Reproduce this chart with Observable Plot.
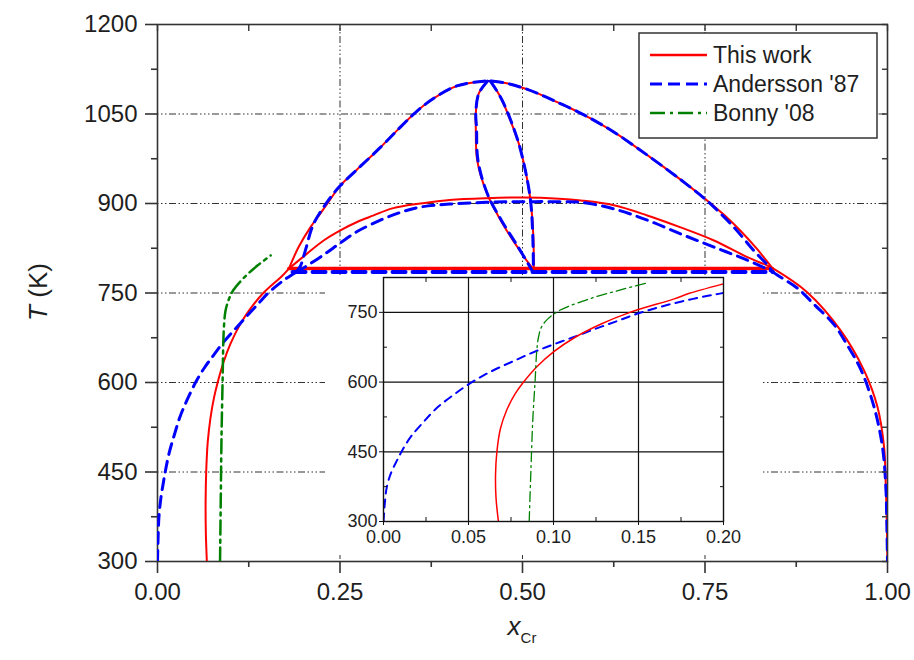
<!DOCTYPE html>
<html><head><meta charset="utf-8">
<script src="https://cdn.jsdelivr.net/npm/d3@7"></script>
<script src="https://cdn.jsdelivr.net/npm/@observablehq/plot@0.6"></script>
<style>
body{margin:0;background:#fff;}
#wrap{position:relative;width:914px;height:660px;font-family:"Liberation Sans",Arial,sans-serif;}
#wrap svg{display:block;}
#inset{position:absolute;left:325px;top:275px;}
</style></head><body><div id="wrap"><div id="inset"></div></div>
<script>
// ---- data: [x_Cr, T(K)] ----
const redLeftSolvus = [[0.0676,300],[0.0662,350],[0.0659,400],[0.0667,450],[0.0688,500],[0.0725,540],[0.0775,575],[0.0824,600],[0.0902,633],[0.1,665],[0.113,697],[0.128,725],[0.145,750],[0.171,779],[0.18,791]];
const redInnerDome = [[0.18,791],[0.2048,816],[0.2276,838],[0.2505,855],[0.2734,869],[0.2961,880],[0.319,891],[0.342,897],[0.36,900],[0.4,906],[0.45,909],[0.5,910],[0.55,908],[0.58,905],[0.6252,897],[0.671,880],[0.7166,860],[0.7623,838],[0.808,810],[0.8355,796],[0.842,792]];
const redOuterDome = [[0.18,791],[0.1933,827],[0.2094,860],[0.223,883],[0.2345,903],[0.2505,930],[0.2734,957],[0.3053,994],[0.3327,1028],[0.3556,1055],[0.378,1076],[0.41,1097],[0.447,1105],[0.46,1105],[0.48,1101],[0.5,1094],[0.52,1085],[0.54,1074],[0.56,1063],[0.58,1051],[0.6,1038],[0.625,1020],[0.671,981],[0.7166,940],[0.75,908],[0.776,881],[0.7989,854],[0.8218,823],[0.842,792]];
const redRightSolvus = [[0.842,792],[0.8903,751],[0.936,687],[0.968,620],[0.9863,559],[0.9953,492],[0.9977,425],[0.999,369],[1.0,300]];
const redLensLeft = [[0.452,1105],[0.44,1084],[0.436,1050],[0.436,1028],[0.438,972],[0.4516,916],[0.47,872],[0.493,827],[0.513,793],[0.515,791]];
const redLensRight = [[0.456,1105],[0.47,1078],[0.4835,1039],[0.495,1000],[0.504,955],[0.511,905],[0.5147,849],[0.5155,791]];
const redEutectoid = [[0.18,791],[0.842,791]];

const blueLeftSolvus = [[0,300],[0.0008,340],[0.002,375],[0.0045,405],[0.008,432],[0.011,453],[0.016,482],[0.023,512],[0.031,543],[0.041,572],[0.053,602],[0.065,626],[0.077,646],[0.088,664],[0.1,681],[0.112,697],[0.125,715],[0.138,732],[0.15,748],[0.163,762],[0.176,774],[0.19,785]];
const blueInnerDome = [[0.19,785],[0.2,792],[0.2276,814],[0.2505,834],[0.2734,853],[0.3053,872],[0.3327,885],[0.36,894],[0.4,899],[0.45,902],[0.5,903],[0.55,903],[0.58,902],[0.6252,891],[0.671,872],[0.7166,849],[0.7623,827],[0.808,805],[0.835,790],[0.843,785]];
const blueOuterDome = [[0.19,785],[0.1957,795],[0.2025,821],[0.2139,866],[0.2369,910],[0.2505,930],[0.2734,957],[0.3053,994],[0.3327,1028],[0.3556,1055],[0.378,1076],[0.41,1097],[0.447,1105],[0.46,1105],[0.48,1101],[0.5,1094],[0.52,1085],[0.54,1074],[0.56,1063],[0.58,1051],[0.6,1038],[0.625,1020],[0.671,981],[0.7166,940],[0.7486,909],[0.7623,894],[0.7897,860],[0.817,821],[0.8355,797],[0.843,785]];
const blueRightSolvus = [[0.843,785],[0.849,780],[0.8766,758],[0.8994,731],[0.9268,697],[0.9452,662],[0.9634,622],[0.9816,559],[0.9931,492],[0.9977,425],[0.999,369],[1.0,300]];
const blueLensLeft = [[0.452,1105],[0.44,1084],[0.436,1050],[0.437,1028],[0.439,972],[0.452,916],[0.471,872],[0.494,827],[0.512,790],[0.514,785]];
const blueLensRight = [[0.456,1105],[0.47,1078],[0.484,1039],[0.495,1000],[0.504,955],[0.511,905],[0.514,849],[0.515,785]];
const blueEutectoid = [[0.185,785],[0.843,785]];

const greenSolvus = [[0.0857,300],[0.0867,409],[0.0878,517],[0.0892,604],[0.0902,669],[0.0912,697],[0.093,719],[0.097,737],[0.104,755],[0.122,780],[0.139,798],[0.155,813]];

const majorT = [300,450,600,750,900,1050,1200];
const minorT = [375,525,675,825,975,1125];
const gridT = [450,600,750,900,1050];
const majorX = [0,0.25,0.5,0.75,1];
const minorX = [0.125,0.375,0.625,0.875];
const gridX = [0.25,0.5,0.75];
const insetMajorX = [0,0.05,0.1,0.15,0.2];
const insetMinorX = [0.025,0.075,0.125,0.175];
const insetGridX = [0.05,0.1,0.15];
const insetMajorT = [300,450,600,750];
const insetMinorT = [375,525,675];
const insetGridT = [450,600,750];
const legendLabels = ["This work","Andersson '87","Bonny '08"];

// ---- styles ----
const RED = "#ff0000", BLUE = "#0000ff", GREEN = "#008000", INK = "#1e1e1e";
const FONT = "'Liberation Sans', Arial, sans-serif";
const P = pts => pts.map(([x,T]) => ({x, T}));
const L = (pts, stroke, w, dash) => Plot.line(P(pts), {x:"x", y:"T", stroke, strokeWidth:w, strokeDasharray:dash, curve:"catmull-rom", clip:true});
const gridDash = "1.5,2.5,1.5,2.5,1.5,2.5,7,2.5";
const blank = () => "";

const main = Plot.plot({
  width: 914, height: 660,
  marginLeft: 157, marginRight: 27, marginTop: 24, marginBottom: 99,
  style: {fontFamily: FONT, color: INK, background: "transparent"},
  x: {domain: [0,1], label: null},
  y: {domain: [300,1200], label: null},
  marks: [
    Plot.ruleY(gridT, {stroke:"#333", strokeWidth:1, strokeDasharray:gridDash}),
    Plot.ruleX(gridX, {stroke:"#333", strokeWidth:1, strokeDasharray:gridDash}),
    Plot.frame({stroke:"#333", strokeWidth:1.6}),
    L(redLeftSolvus, RED, 2),
    L(redInnerDome, RED, 2),
    L(redOuterDome, RED, 2),
    L(redRightSolvus, RED, 2),
    L(redLensLeft, RED, 2),
    L(redLensRight, RED, 2),
    L(redEutectoid, RED, 3.5),
    L(blueLeftSolvus, BLUE, 3, "11,7"),
    L(blueInnerDome, BLUE, 3, "11,7"),
    L(blueOuterDome, BLUE, 3, "11,7"),
    L(blueRightSolvus, BLUE, 3, "11,7"),
    L(blueLensLeft, BLUE, 3, "11,7"),
    L(blueLensRight, BLUE, 3, "11,7"),
    L(blueEutectoid, BLUE, 4, "13,7"),
    L(greenSolvus, GREEN, 2.5, "14,5,3,5"),
    Plot.axisY(majorT, {anchor:"left", tickSize:12, tickPadding:8, fontSize:24, tickFormat:d=>String(d), stroke:"#333", strokeWidth:1.6}),
    Plot.axisY(minorT, {anchor:"left", tickSize:6, tickFormat:blank, stroke:"#333", strokeWidth:1.6}),
    Plot.axisY(majorT.concat(minorT), {anchor:"right", tickSize:6, dx:-6, tickFormat:blank, stroke:"#333", strokeWidth:1.4}),
    Plot.axisX(majorX, {anchor:"bottom", tickSize:12, tickPadding:9, fontSize:24, tickFormat:d3.format(".2f"), stroke:"#333", strokeWidth:1.6}),
    Plot.axisX(minorX, {anchor:"bottom", tickSize:6, tickFormat:blank, stroke:"#333", strokeWidth:1.6}),
    Plot.axisX(majorX.concat(minorX), {anchor:"top", tickSize:6, dy:6, tickFormat:blank, stroke:"#333", strokeWidth:1.4})
  ]
});
document.getElementById("wrap").prepend(main);

// axis titles
const svg = d3.select(main);
const yt = svg.append("text").attr("transform","translate(47,292) rotate(-90)").attr("text-anchor","middle")
  .attr("font-size",26).attr("fill",INK).style("font-family",FONT);
yt.append("tspan").attr("font-style","italic").text("T");
yt.append("tspan").text(" (K)");
const xt = svg.append("text").attr("x",522).attr("y",635).attr("text-anchor","middle")
  .attr("fill",INK).style("font-family",FONT);
xt.append("tspan").attr("font-style","italic").attr("font-size",26).text("x");
xt.append("tspan").attr("font-size",15).attr("dy",8).text("Cr");

// legend
const lg = svg.append("g");
lg.append("rect").attr("x",639).attr("y",33).attr("width",238).attr("height",105)
  .attr("fill","white").attr("stroke","#333").attr("stroke-width",1.5);
const legStyles = [[RED,2.5,null],[BLUE,3,"12,6"],[GREEN,2.5,"15,5,3,5"]];
const legY = [55,84,113];
legendLabels.forEach((t,i) => {
  lg.append("line").attr("x1",650).attr("x2",707).attr("y1",legY[i]).attr("y2",legY[i])
    .attr("stroke",legStyles[i][0]).attr("stroke-width",legStyles[i][1])
    .attr("stroke-dasharray",legStyles[i][2]);
  lg.append("text").attr("x",713).attr("y",legY[i]+8).attr("font-size",23).attr("fill",INK)
    .attr("text-anchor","start").style("font-family",FONT).text(t);
});

// inset
const inset = Plot.plot({
  width: 437, height: 280,
  marginLeft: 58, marginRight: 39, marginTop: 2, marginBottom: 34,
  style: {fontFamily: FONT, color: INK, background: "white"},
  x: {domain: [0,0.2], label: null},
  y: {domain: [300,825], label: null},
  marks: [
    Plot.ruleX(insetGridX, {stroke:"#111", strokeWidth:1.2}),
    Plot.ruleY(insetGridT, {stroke:"#111", strokeWidth:1.2}),
    L(blueLeftSolvus.concat(blueInnerDome.slice(1)), BLUE, 2, "8,6"),
    L(redLeftSolvus.concat(redInnerDome.slice(1)), RED, 1.5),
    L(greenSolvus, GREEN, 1.3, "10,4,2,4"),
    Plot.frame({stroke:"#111", strokeWidth:1.4}),
    Plot.axisY(insetMajorT, {anchor:"left", tickSize:4, tickPadding:2, fontSize:18, tickFormat:d=>String(d), stroke:"#111"}),
    Plot.axisY(insetMinorT, {anchor:"left", tickSize:4, dx:4, tickFormat:blank, stroke:"#111"}),
    Plot.axisY(insetMinorT, {anchor:"right", tickSize:4, dx:-4, tickFormat:blank, stroke:"#111"}),
    Plot.axisX(insetMajorX, {anchor:"bottom", tickSize:4, tickPadding:5, fontSize:18, tickFormat:d3.format(".2f"), stroke:"#111"}),
    Plot.axisX(insetMinorX, {anchor:"bottom", tickSize:4, dy:-4, tickFormat:blank, stroke:"#111"}),
    Plot.axisX(insetMinorX, {anchor:"top", tickSize:4, dy:4, tickFormat:blank, stroke:"#111"})
  ]
});
document.getElementById("inset").append(inset);
</script>
</body></html>
